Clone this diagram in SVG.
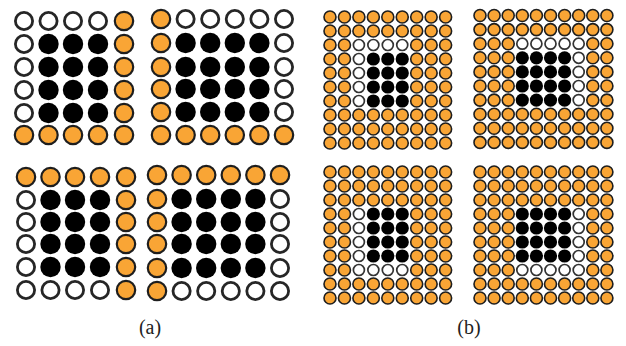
<svg xmlns="http://www.w3.org/2000/svg" xmlns:xlink="http://www.w3.org/1999/xlink" width="626" height="346" viewBox="0 0 626 346">
<style>
.O{fill:#F9A535;stroke:#1e1e1e;stroke-width:2.2}
.W{fill:#fff;stroke:#262626;stroke-width:2.8}
.K{fill:#000}
.o{fill:#F9A535;stroke:#1e1e1e;stroke-width:1.6}
.w{fill:#fff;stroke:#333;stroke-width:1.7}
.k{fill:#000}
.lbl{font-family:"Liberation Serif","Times New Roman",serif;font-size:20px;fill:#222;text-anchor:middle}
</style>
<defs>
<g id="R5w"><circle class="W" cx="0" r="8.6"/><circle class="W" cx="24.5" r="8.6"/><circle class="W" cx="49" r="8.6"/><circle class="W" cx="74" r="8.6"/><circle class="O" cx="100" r="9.2"/></g>
<g id="R5k"><circle class="W" cx="0" r="8.6"/><circle class="K" cx="24.5" r="10.2"/><circle class="K" cx="49" r="10.2"/><circle class="K" cx="74" r="10.2"/><circle class="O" cx="100" r="9.2"/></g>
<g id="R5o"><circle class="O" cx="0" r="9.2"/><circle class="O" cx="24.5" r="9.2"/><circle class="O" cx="49" r="9.2"/><circle class="O" cx="74" r="9.2"/><circle class="O" cx="100" r="9.2"/></g>
<g id="R6w"><circle class="O" cx="0" r="9.2"/><circle class="W" cx="24.6" r="8.6"/><circle class="W" cx="49.2" r="8.6"/><circle class="W" cx="73.8" r="8.6"/><circle class="W" cx="98.4" r="8.6"/><circle class="W" cx="123" r="8.6"/></g>
<g id="R6k"><circle class="O" cx="0" r="9.2"/><circle class="K" cx="24.6" r="10.2"/><circle class="K" cx="49.2" r="10.2"/><circle class="K" cx="73.8" r="10.2"/><circle class="K" cx="98.4" r="10.2"/><circle class="W" cx="123" r="8.6"/></g>
<g id="R6o"><circle class="O" cx="0" r="9.2"/><circle class="O" cx="24.6" r="9.2"/><circle class="O" cx="49.2" r="9.2"/><circle class="O" cx="73.8" r="9.2"/><circle class="O" cx="98.4" r="9.2"/><circle class="O" cx="123" r="9.2"/></g>
<g id="r9o"><circle class="o" cx="0" r="6"/><circle class="o" cx="14.45" r="6"/><circle class="o" cx="28.9" r="6"/><circle class="o" cx="43.35" r="6"/><circle class="o" cx="57.8" r="6"/><circle class="o" cx="72.25" r="6"/><circle class="o" cx="86.7" r="6"/><circle class="o" cx="101.15" r="6"/><circle class="o" cx="115.6" r="6"/></g>
<g id="r9a"><circle class="o" cx="0" r="6"/><circle class="o" cx="14.45" r="6"/><circle class="w" cx="28.9" r="5.5"/><circle class="w" cx="43.35" r="5.5"/><circle class="w" cx="57.8" r="5.5"/><circle class="w" cx="72.25" r="5.5"/><circle class="o" cx="86.7" r="6"/><circle class="o" cx="101.15" r="6"/><circle class="o" cx="115.6" r="6"/></g>
<g id="r9b"><circle class="o" cx="0" r="6"/><circle class="o" cx="14.45" r="6"/><circle class="w" cx="28.9" r="5.5"/><circle class="k" cx="43.35" r="6.6"/><circle class="k" cx="57.8" r="6.6"/><circle class="k" cx="72.25" r="6.6"/><circle class="o" cx="86.7" r="6"/><circle class="o" cx="101.15" r="6"/><circle class="o" cx="115.6" r="6"/></g>
<g id="r10o"><circle class="o" cx="0" r="6"/><circle class="o" cx="14.1" r="6"/><circle class="o" cx="28.2" r="6"/><circle class="o" cx="42.3" r="6"/><circle class="o" cx="56.4" r="6"/><circle class="o" cx="70.5" r="6"/><circle class="o" cx="84.6" r="6"/><circle class="o" cx="98.7" r="6"/><circle class="o" cx="112.8" r="6"/><circle class="o" cx="126.9" r="6"/></g>
<g id="r10a"><circle class="o" cx="0" r="6"/><circle class="o" cx="14.1" r="6"/><circle class="o" cx="28.2" r="6"/><circle class="w" cx="42.3" r="5.5"/><circle class="w" cx="56.4" r="5.5"/><circle class="w" cx="70.5" r="5.5"/><circle class="w" cx="84.6" r="5.5"/><circle class="w" cx="98.7" r="5.5"/><circle class="o" cx="112.8" r="6"/><circle class="o" cx="126.9" r="6"/></g>
<g id="r10b"><circle class="o" cx="0" r="6"/><circle class="o" cx="14.1" r="6"/><circle class="o" cx="28.2" r="6"/><circle class="k" cx="42.3" r="6.6"/><circle class="k" cx="56.4" r="6.6"/><circle class="k" cx="70.5" r="6.6"/><circle class="k" cx="84.6" r="6.6"/><circle class="w" cx="98.7" r="5.5"/><circle class="o" cx="112.8" r="6"/><circle class="o" cx="126.9" r="6"/></g>
</defs>
<rect width="626" height="346" fill="#fff"/>
<g id="panel-a">
<g id="a-top-left" transform="translate(24,0)">
<use href="#R5w" y="21"/><use href="#R5k" y="44"/><use href="#R5k" y="67"/><use href="#R5k" y="90"/><use href="#R5k" y="113"/><use href="#R5o" y="135"/>
</g>
<g id="a-top-right" transform="translate(161,0)">
<use href="#R6w" y="19"/><use href="#R6k" y="43"/><use href="#R6k" y="67"/><use href="#R6k" y="89"/><use href="#R6k" y="112"/><use href="#R6o" y="135"/>
</g>
<g id="a-bottom-left" transform="translate(26,0)">
<use href="#R5o" y="177"/><use href="#R5k" y="200"/><use href="#R5k" y="222"/><use href="#R5k" y="244"/><use href="#R5k" y="267"/><use href="#R5w" y="290"/>
</g>
<g id="a-bottom-right" transform="translate(157,0)">
<use href="#R6o" y="175"/><use href="#R6k" y="199"/><use href="#R6k" y="222"/><use href="#R6k" y="244"/><use href="#R6k" y="268"/><use href="#R6w" y="291"/>
</g>
<text class="lbl" x="150" y="334">(a)</text>
</g>
<g id="panel-b">
<g id="b-top-left" transform="translate(330,17)">
<use href="#r9o" y="0"/><use href="#r9o" y="14"/><use href="#r9a" y="28"/><use href="#r9b" y="42"/><use href="#r9b" y="56"/><use href="#r9b" y="70"/><use href="#r9b" y="84"/><use href="#r9o" y="98"/><use href="#r9o" y="112"/><use href="#r9o" y="126"/>
</g>
<g id="b-top-right" transform="translate(480,15.5)">
<use href="#r10o" y="0"/><use href="#r10o" y="14.1"/><use href="#r10a" y="28.2"/><use href="#r10b" y="42.3"/><use href="#r10b" y="56.4"/><use href="#r10b" y="70.5"/><use href="#r10b" y="84.6"/><use href="#r10o" y="98.7"/><use href="#r10o" y="112.8"/><use href="#r10o" y="126.9"/>
</g>
<g id="b-bottom-left" transform="translate(330,172)">
<use href="#r9o" y="0"/><use href="#r9o" y="14"/><use href="#r9o" y="28"/><use href="#r9b" y="42"/><use href="#r9b" y="56"/><use href="#r9b" y="70"/><use href="#r9b" y="84"/><use href="#r9a" y="98"/><use href="#r9o" y="112"/><use href="#r9o" y="126"/>
</g>
<g id="b-bottom-right" transform="translate(480,172)">
<use href="#r10o" y="0"/><use href="#r10o" y="14"/><use href="#r10o" y="28"/><use href="#r10b" y="42"/><use href="#r10b" y="56"/><use href="#r10b" y="70"/><use href="#r10b" y="84"/><use href="#r10a" y="98"/><use href="#r10o" y="112"/><use href="#r10o" y="126"/>
</g>
<text class="lbl" x="469" y="334">(b)</text>
</g>
</svg>
